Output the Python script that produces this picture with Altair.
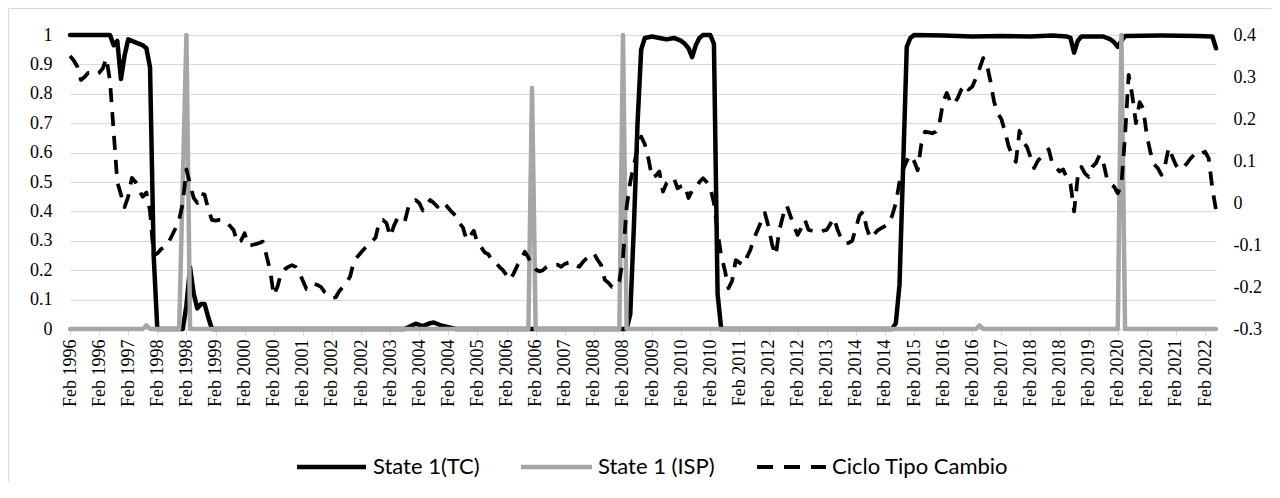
import altair as alt
import pandas as pd

# ---------------- data ----------------
TICK_LABELS = ["Feb 1996", "Feb 1996", "Feb 1997", "Feb 1998", "Feb 1998", "Feb 1999",
               "Feb 2000", "Feb 2000", "Feb 2001", "Feb 2002", "Feb 2002", "Feb 2003",
               "Feb 2004", "Feb 2004", "Feb 2005", "Feb 2006", "Feb 2006", "Feb 2007",
               "Feb 2008", "Feb 2008", "Feb 2009", "Feb 2010", "Feb 2010", "Feb 2011",
               "Feb 2012", "Feb 2012", "Feb 2013", "Feb 2014", "Feb 2014", "Feb 2015",
               "Feb 2016", "Feb 2016", "Feb 2017", "Feb 2018", "Feb 2018", "Feb 2019",
               "Feb 2020", "Feb 2020", "Feb 2021", "Feb 2022"]
TICK_STEP = 8          # one label every 8 months
LAST_MONTH = 315       # month index of the last observation

SERIES = ["State 1(TC)", "State 1 (ISP)", "Ciclo Tipo Cambio"]

# State 1 (TC): month index / probability
TC_MONTH = [0, 11, 12, 13, 14, 15, 16, 17, 18, 19, 20, 21, 22, 23, 24,
            31, 32, 33, 34, 35, 36, 37, 38, 39,
            92, 94, 95, 97, 99, 100, 102, 106,
            153, 154, 155, 156, 157, 158, 160, 162, 164, 166, 168, 169, 170, 171,
            172, 173, 174, 176, 177, 178, 179,
            226, 227, 228, 229, 230, 231, 232, 240, 248, 256, 264, 270, 274, 275,
            276, 277, 278, 284, 286, 287, 288, 289, 290, 300, 310, 314, 315]
TC_VALUE = [1.0, 1.0, 0.965, 0.98, 0.85, 0.93, 0.985, 0.98, 0.975, 0.97, 0.965, 0.955, 0.89, 0.25, 0.0,
            0.0, 0.08, 0.21, 0.12, 0.07, 0.085, 0.085, 0.04, 0.0,
            0.0, 0.012, 0.018, 0.01, 0.02, 0.022, 0.012, 0.0,
            0.0, 0.05, 0.35, 0.7, 0.95, 0.99, 0.995, 0.99, 0.985, 0.99, 0.98, 0.97, 0.955, 0.925,
            0.965, 0.99, 1.0, 1.0, 0.97, 0.12, 0.0,
            0.0, 0.02, 0.15, 0.55, 0.96, 0.99, 1.0, 0.998, 0.995, 0.997, 0.995, 0.998, 0.995, 0.99,
            0.94, 0.98, 0.995, 0.995, 0.985, 0.975, 0.96, 0.98, 0.997, 0.998, 0.997, 0.995, 0.955]

# State 1 (ISP): month index / probability
ISP_MONTH = [0, 20, 21, 22, 30, 31, 32, 33, 126, 127, 128, 151, 152, 153,
             249, 250, 251, 288, 289, 290, 315]
ISP_VALUE = [0.0, 0.0, 0.012, 0.0, 0.0, 0.5, 1.0, 0.0, 0.0, 0.82, 0.0, 0.0, 1.0, 0.0,
             0.0, 0.012, 0.0, 0.0, 1.0, 0.0, 0.0]

# Ciclo Tipo Cambio: one value per month, index 0 .. 315 (right axis)
CICLO = [
    0.35, 0.34, 0.325, 0.293, 0.30, 0.31, 0.31, 0.305, 0.31, 0.32,
    0.345, 0.29, 0.17, 0.05, 0.02, -0.01, 0.015, 0.06, 0.05, 0.03,
    0.015, 0.025, -0.02, -0.125, -0.12, -0.11, -0.105, -0.095, -0.078, -0.06,
    -0.04, 0.0, 0.08, 0.045, 0.012, 0.0, 0.022, 0.02, -0.015, -0.04,
    -0.042, -0.04, -0.04, -0.045, -0.055, -0.065, -0.095, -0.09, -0.072, -0.1,
    -0.1, -0.098, -0.095, -0.092, -0.125, -0.16, -0.22, -0.2, -0.168, -0.158,
    -0.152, -0.148, -0.152, -0.165, -0.185, -0.205, -0.2, -0.192, -0.195, -0.2,
    -0.212, -0.218, -0.226, -0.225, -0.21, -0.2, -0.19, -0.175, -0.14, -0.128,
    -0.118, -0.108, -0.1, -0.092, -0.082, -0.045, -0.04, -0.048, -0.08, -0.055,
    -0.036, -0.04, -0.045, -0.01, 0.003, 0.007, 0.0, -0.018, -0.005, 0.007,
    0.0, -0.009, 0.002, -0.002, -0.012, -0.022, -0.03, -0.048, -0.058, -0.088,
    -0.078, -0.066, -0.096, -0.105, -0.118, -0.122, -0.137, -0.142, -0.152, -0.16,
    -0.172, -0.183, -0.167, -0.148, -0.135, -0.116, -0.13, -0.148, -0.158, -0.163,
    -0.16, -0.152, -0.148, -0.148, -0.147, -0.152, -0.145, -0.142, -0.14, -0.148,
    -0.152, -0.14, -0.132, -0.125, -0.12, -0.135, -0.148, -0.183, -0.19, -0.2,
    -0.2, -0.187, -0.13, -0.01, 0.05, 0.09, 0.13, 0.158, 0.14, 0.105,
    0.06, 0.065, 0.075, 0.027, 0.048, 0.055, 0.059, 0.035, 0.04, 0.043,
    0.012, 0.03, 0.035, 0.05, 0.059, 0.05, 0.036, 0.0, -0.07, -0.125,
    -0.16, -0.203, -0.185, -0.136, -0.142, -0.148, -0.13, -0.112, -0.084, -0.064,
    -0.044, -0.024, -0.056, -0.1, -0.124, -0.064, -0.03, -0.006, -0.03, -0.055,
    -0.076, -0.06, -0.04, -0.064, -0.066, -0.068, -0.07, -0.066, -0.064, -0.05,
    -0.036, -0.064, -0.085, -0.096, -0.095, -0.09, -0.06, -0.03, -0.02, -0.06,
    -0.084, -0.075, -0.065, -0.06, -0.055, -0.05, -0.03, 0.0, 0.05, 0.08,
    0.1, 0.114, 0.1, 0.078, 0.14, 0.17, 0.168, 0.166, 0.17, 0.19,
    0.241, 0.262, 0.24, 0.235, 0.25, 0.27, 0.282, 0.27, 0.277, 0.297,
    0.32, 0.345, 0.33, 0.29, 0.241, 0.213, 0.2, 0.17, 0.135, 0.114,
    0.098, 0.172, 0.145, 0.134, 0.11, 0.083, 0.1, 0.11, 0.122, 0.128,
    0.095, 0.085, 0.075, 0.08, 0.06, 0.045, -0.02, 0.063, 0.086, 0.07,
    0.062, 0.086, 0.095, 0.114, 0.098, 0.059, 0.045, 0.039, 0.023, 0.043,
    0.16, 0.305, 0.255, 0.19, 0.24, 0.225, 0.16, 0.12, 0.092, 0.083,
    0.067, 0.09, 0.132, 0.11, 0.09, 0.08, 0.085, 0.094, 0.106, 0.115,
    0.122, 0.118, 0.122, 0.106, 0.035, -0.017,
]

LEFT_TICKS = [0, 0.1, 0.2, 0.3, 0.4, 0.5, 0.6, 0.7, 0.8, 0.9, 1]
RIGHT_TICKS = [-0.3, -0.2, -0.1, 0, 0.1, 0.2, 0.3, 0.4]

# ---------------- tables ----------------
tc_df = pd.DataFrame({"t": TC_MONTH, "v": TC_VALUE})
isp_df = pd.DataFrame({"t": ISP_MONTH, "v": ISP_VALUE})
cyc_df = pd.DataFrame({"t": list(range(len(CICLO))), "r": CICLO})

# ---------------- styling ----------------
SERIF = "Liberation Serif"
LEGEND_FONT = "Lato"
AXIS_FS = 18
GRID = "#d9d9d9"
BLACK = "#000000"
GREY = "#a6a6a6"
DASH = [14, 10]
W, H = 1146, 294
PAD = {"left": 62, "top": 27, "right": 56, "bottom": 153}

label_array = "[" + ",".join("'" + s + "'" for s in TICK_LABELS) + "]"

x_enc = alt.X(
    "t:Q",
    scale=alt.Scale(domain=[0, LAST_MONTH], nice=False, zero=False),
    axis=alt.Axis(
        values=list(range(0, len(TICK_LABELS) * TICK_STEP, TICK_STEP)),
        labelExpr=label_array + "[round(datum.value / " + str(TICK_STEP) + ")]",
        labelAngle=270, labelFont=SERIF, labelFontSize=AXIS_FS, labelColor=BLACK,
        labelPadding=4, labelOverlap=False, labelFlush=False,
        grid=False, domainColor=GRID, domainWidth=1, tickColor=GRID, tickSize=6,
        tickWidth=1, title=None,
    ),
)

y_left = alt.Y(
    "v:Q",
    scale=alt.Scale(domain=[0, 1], nice=False, zero=False),
    axis=alt.Axis(
        values=LEFT_TICKS, labelExpr="format(datum.value, '.1~f')",
        labelFont=SERIF, labelFontSize=AXIS_FS, labelColor=BLACK, labelPadding=18,
        grid=True, gridColor=GRID, gridWidth=1, domain=False, ticks=False, title=None,
    ),
)

y_right = alt.Y(
    "r:Q",
    scale=alt.Scale(domain=[-0.3, 0.4], nice=False, zero=False),
    axis=alt.Axis(
        orient="right", values=RIGHT_TICKS,
        labelExpr="datum.value < 0 ? '-' + format(-datum.value, '.1~f') : format(datum.value, '.1~f')",
        labelFont=SERIF, labelFontSize=AXIS_FS, labelColor=BLACK, labelPadding=17,
        grid=False, domain=False, ticks=False, title=None,
    ),
)

tc_line = alt.Chart(tc_df).mark_line(
    color=BLACK, strokeWidth=4.5, strokeJoin="round", strokeCap="round").encode(x=x_enc, y=y_left)
isp_line = alt.Chart(isp_df).mark_line(
    color=GREY, strokeWidth=4.5, strokeJoin="round", strokeCap="round").encode(x=x_enc, y=y_left)
cyc_line = alt.Chart(cyc_df).mark_line(
    color=BLACK, strokeWidth=3.75, strokeJoin="round", strokeDash=DASH).encode(x=x_enc, y=y_right)

# ---------------- decoration: chart border + legend (pixel positions, plot origin) ----------------
one = alt.Data(values=[{"k": 0}])
border_top = alt.Chart(one).mark_rule(color=GRID, strokeWidth=1).encode(
    x=alt.value(-61.5), x2=alt.value(1201.5), y=alt.value(-26.5))
border_left = alt.Chart(one).mark_rule(color=GRID, strokeWidth=1).encode(
    x=alt.value(-61.5), y=alt.value(-26.5), y2=alt.value(447))

LEG_Y = 432
legend_items = [
    # (sample start, sample end, colour, width, dash, label x, label)
    (227, 296, BLACK, 4.5, [1, 0], 303, SERIES[0]),
    (451, 522, GREY, 4.5, [1, 0], 528, SERIES[1]),
    (687, 756, BLACK, 4.0, [16, 11], 762, SERIES[2]),
]
legend_layers = []
for x0, x1, col, sw, dash, tx, name in legend_items:
    legend_layers.append(
        alt.Chart(one).mark_rule(color=col, strokeWidth=sw, strokeDash=dash, strokeCap="butt").encode(
            x=alt.value(x0), x2=alt.value(x1), y=alt.value(LEG_Y)))
    legend_layers.append(
        alt.Chart(one).mark_text(align="left", baseline="middle", font=LEGEND_FONT,
                                 fontSize=22, color=BLACK).encode(
            x=alt.value(tx), y=alt.value(LEG_Y), text=alt.value(name)))

left_part = alt.layer(border_top, border_left, tc_line, isp_line, *legend_layers)
chart = alt.layer(left_part, cyc_line).resolve_scale(y="independent").properties(
    width=W, height=H, padding=PAD, autosize=alt.AutoSizeParams(type="none"),
    background="#ffffff",
).configure_view(strokeOpacity=0)

chart.save("out.html", embed_options={"renderer": "svg", "actions": False})
